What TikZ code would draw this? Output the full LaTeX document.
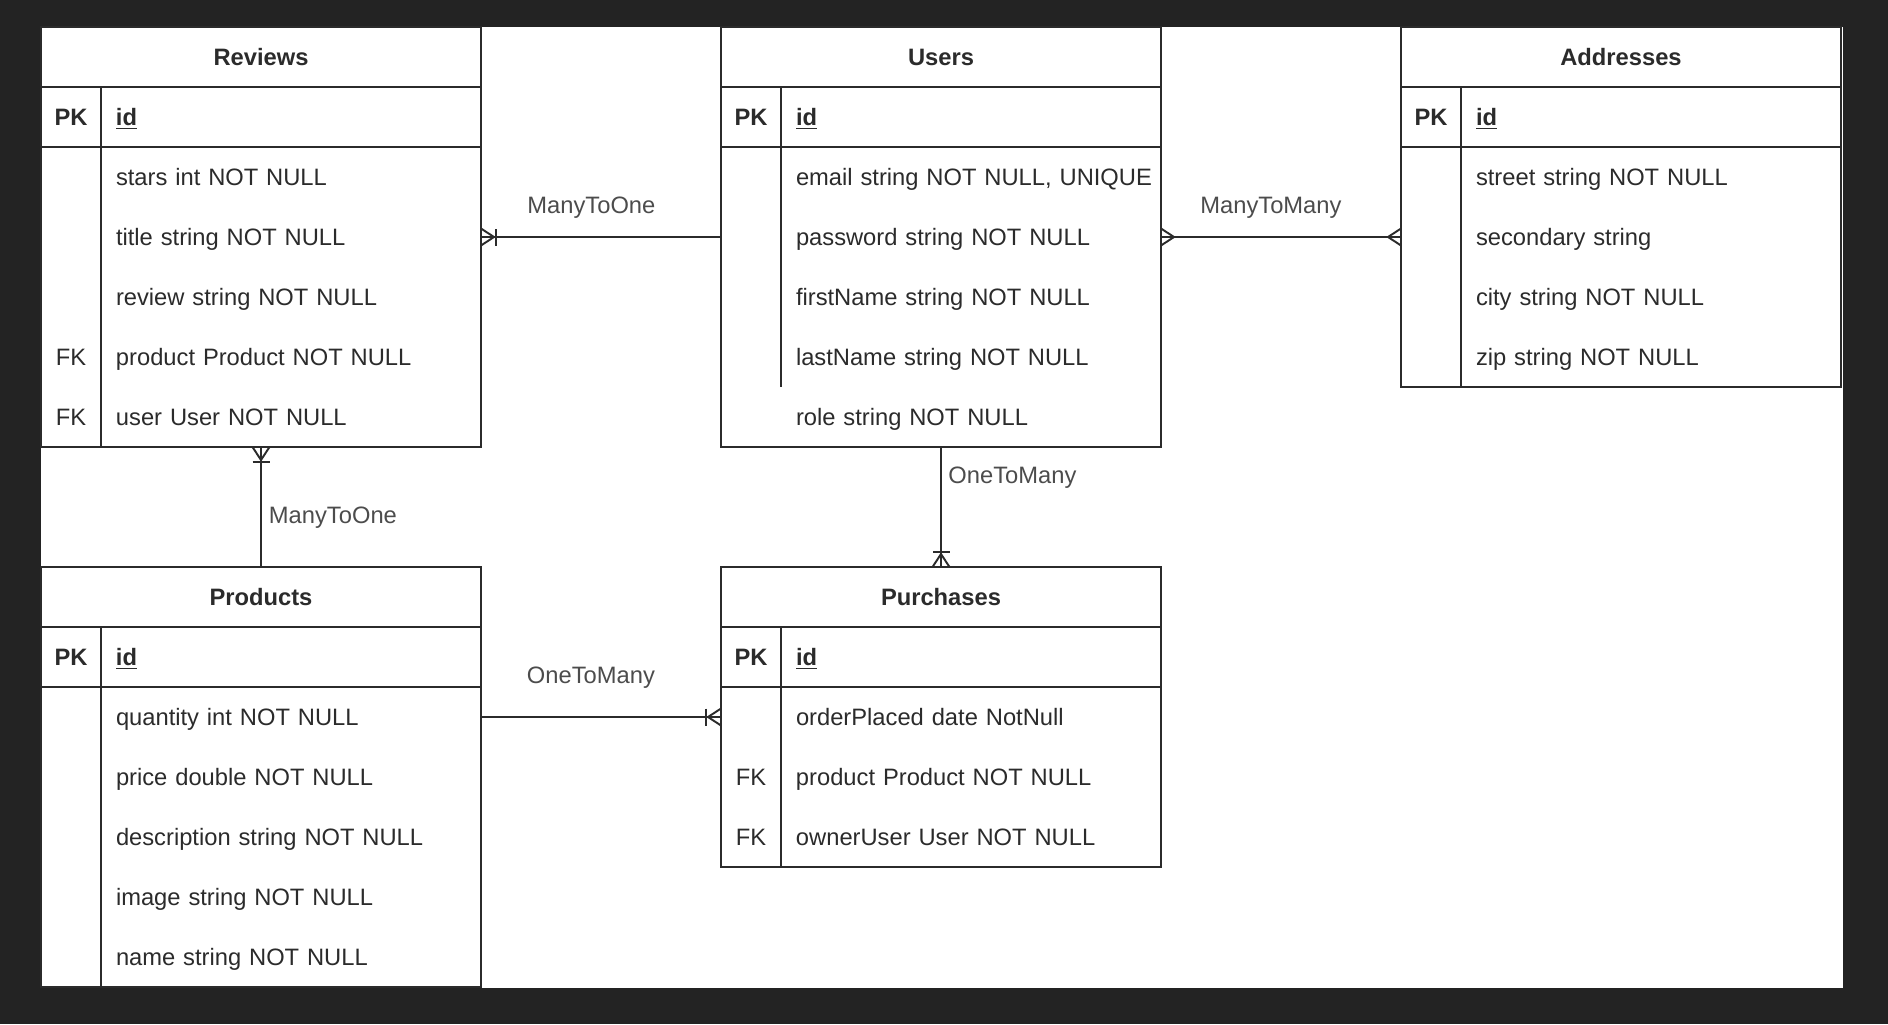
\documentclass[tikz,border=0pt]{standalone}
\usepackage{fontspec}
\setmainfont{Liberation Sans}
\usepackage{tikz}
\usetikzlibrary{positioning}
\usetikzlibrary{decorations.markings}

\definecolor{darkbg}{HTML}{232323}
\definecolor{ink}{HTML}{2B2B2B}

\newcommand{\keycell}[1]{\noindent\makebox[1.2cm][c]{#1}\hspace*{0.3cm}}

\begin{document}
\begin{tikzpicture}[font=\fontsize{13.5}{16}\selectfont, node distance=0pt,
    tabhead/.style={draw=ink, line width=1.1pt, anchor=north west, minimum width=8.8cm, minimum height=1.2cm, inner sep=0pt, outer sep=0pt, text=ink, font=\fontsize{13.5}{16}\selectfont\bfseries},
    tabrow/.style={minimum height=1.2cm, text width=8.8cm, inner xsep=0pt, inner ysep=0pt, outer sep=0pt, align=left, text height=9.8pt, text depth=0pt, text=ink},
    pkrow/.style={tabrow, draw=ink, line width=1.1pt},
    tabframe/.style={draw=ink, line width=1.1pt},
    link/.style={draw=ink, line width=1.1pt},
    lbl/.style={inner sep=0pt, text=black!70},
    onemany/.style={decoration={markings, mark=at position 1 with {
        \draw[link] (0,0.17) -- (-0.26,0) -- (0,-0.17);
        \draw[link] (-0.3,0.17) -- (-0.3,-0.17);}}, postaction={decorate}},
    manymany/.style={decoration={markings,
        mark=at position 0 with {\draw[link] (0,0.17) -- (0.26,0) -- (0,-0.17);},
        mark=at position 1 with {\draw[link] (0,0.17) -- (-0.26,0) -- (0,-0.17);}}, postaction={decorate}}]

    \fill[darkbg] (-0.82,0.54) rectangle (36.94,-19.94);
    \fill[white] (0,0) rectangle (36.04,-19.22);

    % Reviews
    \node[tabhead] (rev) at (0,0) {Reviews};
    \node[pkrow, below=of rev]          (rev-id)      {\keycell{\textbf{PK}}\textbf{\underline{id}}};
    \node[tabrow, below=of rev-id]      (rev-stars)   {\keycell{}stars int NOT NULL};
    \node[tabrow, below=of rev-stars]   (rev-title)   {\keycell{}title string NOT NULL};
    \node[tabrow, below=of rev-title]   (rev-review)  {\keycell{}review string NOT NULL};
    \node[tabrow, below=of rev-review]  (rev-product) {\keycell{FK}product Product NOT NULL};
    \node[tabrow, below=of rev-product] (rev-user)    {\keycell{FK}user User NOT NULL};
    \draw[tabframe] (rev.north west) rectangle (rev-user.south east);
    \draw[tabframe] ([xshift=1.2cm]rev-id.north west) -- ([xshift=1.2cm]rev-user.south west);

    % Users
    \node[tabhead] (usr) at (13.6,0) {Users};
    \node[pkrow, below=of usr]        (usr-id)    {\keycell{\textbf{PK}}\textbf{\underline{id}}};
    \node[tabrow, below=of usr-id]    (usr-email) {\keycell{}email string NOT NULL, UNIQUE};
    \node[tabrow, below=of usr-email] (usr-pass)  {\keycell{}password string NOT NULL};
    \node[tabrow, below=of usr-pass]  (usr-first) {\keycell{}firstName string NOT NULL};
    \node[tabrow, below=of usr-first] (usr-last)  {\keycell{}lastName string NOT NULL};
    \node[tabrow, below=of usr-last]  (usr-role)  {\keycell{}role string NOT NULL};
    \draw[tabframe] (usr.north west) rectangle (usr-role.south east);
    \draw[tabframe] ([xshift=1.2cm]usr-id.north west) -- ([xshift=1.2cm]usr-last.south west);

    % Addresses
    \node[tabhead] (adr) at (27.2,0) {Addresses};
    \node[pkrow, below=of adr]         (adr-id)     {\keycell{\textbf{PK}}\textbf{\underline{id}}};
    \node[tabrow, below=of adr-id]     (adr-street) {\keycell{}street string NOT NULL};
    \node[tabrow, below=of adr-street] (adr-second) {\keycell{}secondary string};
    \node[tabrow, below=of adr-second] (adr-city)   {\keycell{}city string NOT NULL};
    \node[tabrow, below=of adr-city]   (adr-zip)    {\keycell{}zip string NOT NULL};
    \draw[tabframe] (adr.north west) rectangle (adr-zip.south east);
    \draw[tabframe] ([xshift=1.2cm]adr-id.north west) -- ([xshift=1.2cm]adr-zip.south west);

    % Products
    \node[tabhead] (prd) at (0,-10.8) {Products};
    \node[pkrow, below=of prd]        (prd-id)    {\keycell{\textbf{PK}}\textbf{\underline{id}}};
    \node[tabrow, below=of prd-id]    (prd-qty)   {\keycell{}quantity int NOT NULL};
    \node[tabrow, below=of prd-qty]   (prd-price) {\keycell{}price double NOT NULL};
    \node[tabrow, below=of prd-price] (prd-desc)  {\keycell{}description string NOT NULL};
    \node[tabrow, below=of prd-desc]  (prd-image) {\keycell{}image string NOT NULL};
    \node[tabrow, below=of prd-image] (prd-name)  {\keycell{}name string NOT NULL};
    \draw[tabframe] (prd.north west) rectangle (prd-name.south east);
    \draw[tabframe] ([xshift=1.2cm]prd-id.north west) -- ([xshift=1.2cm]prd-name.south west);

    % Purchases
    \node[tabhead] (pur) at (13.6,-10.8) {Purchases};
    \node[pkrow, below=of pur]          (pur-id)      {\keycell{\textbf{PK}}\textbf{\underline{id}}};
    \node[tabrow, below=of pur-id]      (pur-placed)  {\keycell{}orderPlaced date NotNull};
    \node[tabrow, below=of pur-placed]  (pur-product) {\keycell{FK}product Product NOT NULL};
    \node[tabrow, below=of pur-product] (pur-owner)   {\keycell{FK}ownerUser User NOT NULL};
    \draw[tabframe] (pur.north west) rectangle (pur-owner.south east);
    \draw[tabframe] ([xshift=1.2cm]pur-id.north west) -- ([xshift=1.2cm]pur-owner.south west);

    % relations
    \draw (usr-pass.west) edge[link, onemany] node[lbl, pos=0.54, anchor=base, yshift=0.48cm] {ManyToOne} (rev-title.east);
    \draw (usr-pass.east) edge[link, manymany] node[lbl, pos=0.458, anchor=base, yshift=0.48cm] {ManyToMany} (adr-second.west);
    \draw (prd.north) edge[link, onemany] node[lbl, pos=0.365, anchor=base west, xshift=0.14cm] {ManyToOne} (rev-user.south);
    \draw (usr-role.south) edge[link, onemany] node[lbl, pos=0.303, anchor=base west, xshift=0.13cm] {OneToMany} (pur.north);
    \draw (prd-qty.east) edge[link, onemany] node[lbl, pos=0.458, anchor=base, yshift=0.67cm] {OneToMany} (pur-placed.west);
  \end{tikzpicture}
\end{document}
